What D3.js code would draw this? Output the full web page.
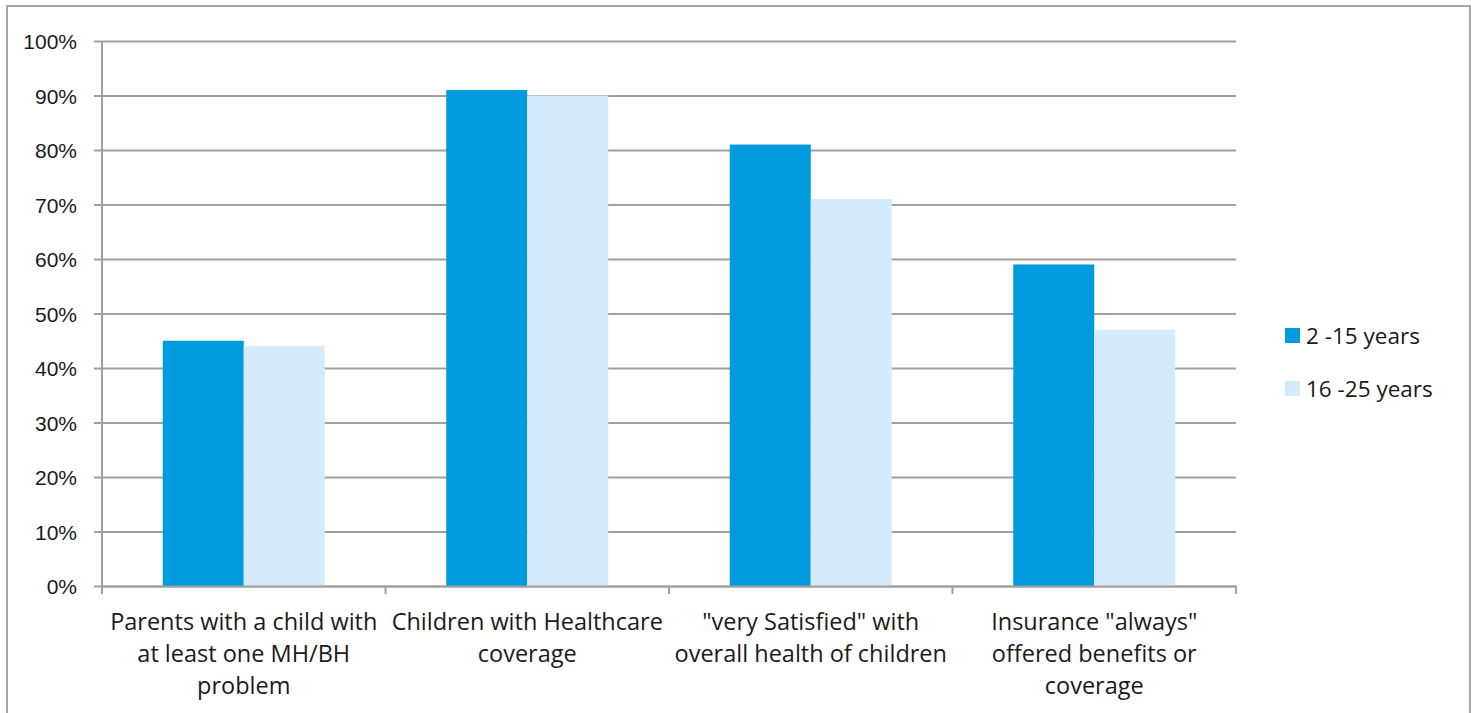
<!DOCTYPE html>
<html>
<head>
<meta charset="utf-8">
<script src="https://cdn.jsdelivr.net/npm/d3@7"></script>
<style>
  html, body { margin: 0; padding: 0; background: #fff; }
  svg { display: block; font-family: "Open Sans", Lato, sans-serif; }
</style>
</head>
<body>
<svg id="chart" width="1475" height="713"></svg>
<script>
// Category labels, already split into the lines they are shown on
const categories = [
  ["Parents with a child with", "at least one MH/BH", "problem"],
  ["Children with Healthcare", "coverage"],
  ["\"very Satisfied\" with", "overall health of children"],
  ["Insurance \"always\"", "offered benefits or", "coverage"]
];
const seriesNames = ["2 -15 years", "16 -25 years"];
const youngerValues = [0.45, 0.91, 0.81, 0.59];
const olderValues = [0.44, 0.90, 0.71, 0.47];
const yTicks = [0, 0.1, 0.2, 0.3, 0.4, 0.5, 0.6, 0.7, 0.8, 0.9, 1.0];
const colors = ["#009ADE", "#D3EBFB"];

const svg = d3.select("#chart");
const plot = { left: 102, right: 1236, top: 41, bottom: 586 };

// Outer frame
svg.append("rect")
  .attr("x", 7).attr("y", 6).attr("width", 1463).attr("height", 720)
  .attr("fill", "none").attr("stroke", "#a6a6a6").attr("stroke-width", 2);

const catIdx = categories.map((d, i) => i);
const x0 = d3.scaleBand().domain(catIdx).range([plot.left, plot.right]).paddingInner(0).paddingOuter(0);
const x1 = d3.scaleBand().domain([0, 1]).range([0, x0.bandwidth()]).paddingOuter(0.75).paddingInner(0);
const y = d3.scaleLinear().domain([0, 1]).range([plot.bottom, plot.top]);

// Horizontal gridlines with tick marks and labels
const yAxis = d3.axisLeft(y).tickValues(yTicks).tickFormat(d3.format(".0%"))
  .tickSize(-(plot.right - plot.left)).tickSizeOuter(0).tickPadding(25);
const gy = svg.append("g").attr("transform", `translate(${plot.left},0)`).call(yAxis);
gy.select(".domain").remove();
gy.selectAll(".tick line").attr("stroke", "#a0a0a0").attr("stroke-width", 2).attr("x1", -8);
gy.selectAll(".tick text").attr("fill", "#1a1a1a").style("font-size", "21px").attr("dy", "0.36em");

// Bars
const data = catIdx.map(i => [youngerValues[i], olderValues[i]]);
const groups = svg.append("g").selectAll("g").data(data).join("g")
  .attr("transform", (d, i) => `translate(${x0(i)},0)`);
groups.selectAll("rect").data(d => d.map((v, s) => ({ v, s }))).join("rect")
  .attr("x", d => x1(d.s))
  .attr("width", x1.bandwidth())
  .attr("y", d => y(d.v))
  .attr("height", d => y(0) - y(d.v))
  .attr("fill", d => colors[d.s]);

// Vertical axis line
svg.append("line")
  .attr("x1", plot.left).attr("x2", plot.left)
  .attr("y1", plot.top).attr("y2", plot.bottom + 8)
  .attr("stroke", "#a0a0a0").attr("stroke-width", 2);

// Category axis
const xAxis = d3.axisBottom(x0).tickValues([]).tickSizeOuter(0);
const gx = svg.append("g").attr("transform", `translate(0,${plot.bottom})`).call(xAxis);
gx.select(".domain").attr("stroke", "#a0a0a0").attr("stroke-width", 2);
const boundaries = catIdx.map(i => x0(i)).concat([plot.right]);
gx.selectAll("line.cat").data(boundaries).join("line").attr("class", "cat")
  .attr("x1", d => d).attr("x2", d => d).attr("y1", 0).attr("y2", 8)
  .attr("stroke", "#a0a0a0").attr("stroke-width", 2);

const labels = svg.append("g").selectAll("text").data(categories).join("text")
  .attr("x", (d, i) => x0(i) + x0.bandwidth() / 2)
  .attr("y", 630)
  .attr("text-anchor", "middle")
  .attr("fill", "#1a1a1a")
  .style("font-size", "23.5px");
labels.selectAll("tspan").data(d => d).join("tspan")
  .attr("x", function () { return d3.select(this.parentNode).attr("x"); })
  .attr("dy", (d, i) => i === 0 ? 0 : 32)
  .text(d => d);

// Legend
const legend = svg.append("g").selectAll("g").data(seriesNames).join("g")
  .attr("transform", (d, i) => `translate(1285,${328 + i * 53})`);
legend.append("rect").attr("width", 15).attr("height", 15).attr("fill", (d, i) => colors[i]);
legend.append("text").attr("x", 21).attr("y", 8).attr("dy", "0.36em")
  .attr("fill", "#1a1a1a").style("font-size", "22.5px").text(d => d);
</script>
</body>
</html>
